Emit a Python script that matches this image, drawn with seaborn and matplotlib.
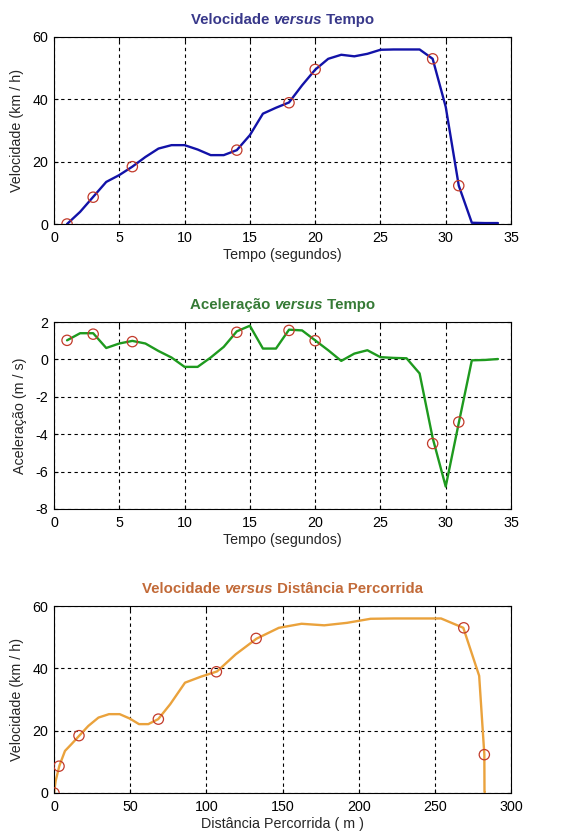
import numpy as np
import pandas as pd
import matplotlib
matplotlib.use("Agg")
import matplotlib.pyplot as plt
import seaborn as sns

# ---------------- data ----------------
tempo = [1, 2, 3, 4, 5, 6, 7, 8, 9, 10, 11, 12, 13, 14, 15, 16, 17,
         18, 19, 20, 21, 22, 23, 24, 25, 26, 27, 28, 29, 30, 31, 32, 33, 34]
velocidade = [0.0, 3.9, 8.7, 13.5, 15.7, 18.4, 21.5, 24.2, 25.3, 25.3, 23.9,
              22.1, 22.1, 23.7, 28.5, 35.4, 37.3, 39.0, 44.5, 49.5, 53.0, 54.3,
              53.8, 54.6, 55.9, 56.0, 56.0, 56.0, 53.0, 37.6, 12.3, 0.4, 0.3, 0.3]
aceleracao = [1.02, 1.40, 1.40, 0.61, 0.85, 0.99, 0.85, 0.45, 0.10, -0.40, -0.40,
              0.10, 0.67, 1.50, 1.80, 0.58, 0.58, 1.59, 1.55, 1.02, 0.49, -0.08,
              0.31, 0.49, 0.12, 0.08, 0.06, -0.75, -4.20, -6.80, -3.40, -0.05,
              -0.03, 0.02]
distancia = [0.0, 1.1, 3.5, 7.2, 11.5, 16.6, 22.5, 29.2, 36.1, 43.1, 49.7, 55.8,
             61.9, 68.4, 76.3, 86.0, 96.3, 107.0, 119.3, 132.9, 147.6, 162.5,
             177.4, 192.4, 207.8, 223.2, 238.7, 254.1, 268.7, 279.1, 282.5,
             282.6, 282.7, 282.8]

marc_t = [1, 3, 6, 14, 18, 20, 29, 31]
marc_v = [0.0, 8.6, 18.4, 23.7, 38.9, 49.6, 53.0, 12.3]
marc_a = [1.02, 1.35, 0.95, 1.45, 1.55, 1.0, -4.5, -3.35]
marc_d = [0.0, 3.3, 16.4, 68.5, 106.6, 132.7, 269.0, 282.5]

xt_tempo = [0, 5, 10, 15, 20, 25, 30, 35]
yt_vel = [0, 20, 40, 60]
yt_acel = [-8, -6, -4, -2, 0, 2]
xt_dist = [0, 50, 100, 150, 200, 250, 300]

# ---------------- style ----------------
sns.set_theme(style="white")
plt.rcParams["font.family"] = ["Liberation Sans", "DejaVu Sans"]
plt.rcParams["axes.unicode_minus"] = False
FS = 10.3
TFS = 10.8

W, H = 561, 834
fig = plt.figure(figsize=(W / 100, H / 100), dpi=100)
fig.patch.set_facecolor("white")

left = 54 / W
width = 457 / W
hgt = 187 / H
ax1 = fig.add_axes([left, 1 - 224 / H, width, hgt])
ax2 = fig.add_axes([left, 1 - 509 / H, width, hgt])
ax3 = fig.add_axes([left, 1 - 793 / H, width, hgt])

df = pd.DataFrame({"t": tempo, "v": velocidade, "a": aceleracao, "d": distancia})
dm = pd.DataFrame({"t": marc_t, "v": marc_v, "a": marc_a, "d": marc_d})

blue = "#1212a8"
green = "#1e9a1e"
orange = "#eaa23c"
mk = "#c23a2a"

sns.lineplot(data=df, x="t", y="v", ax=ax1, color=blue, lw=1.7, sort=False)
sns.lineplot(data=df, x="t", y="a", ax=ax2, color=green, lw=1.7, sort=False)
sns.lineplot(data=df, x="d", y="v", ax=ax3, color=orange, lw=1.7, sort=False)

for ax, xc, yc in [(ax1, "t", "v"), (ax2, "t", "a"), (ax3, "d", "v")]:
    sns.scatterplot(data=dm, x=xc, y=yc, ax=ax, s=55, marker="o",
                    facecolor="none", edgecolor=mk, linewidth=0.9, zorder=5)


def style(ax, xlim, xt, ylim, yt, xlabel, ylabel):
    ax.set_xlim(*xlim)
    ax.set_ylim(*ylim)
    ax.set_xticks(xt)
    ax.set_yticks(yt)
    ax.set_xlabel(xlabel, fontsize=FS, labelpad=2)
    ax.set_ylabel(ylabel, fontsize=FS, labelpad=6)
    ax.grid(True, color="black", linestyle=(0, (3, 3)), linewidth=0.8)
    ax.set_axisbelow(True)
    for s in ax.spines.values():
        s.set_color("black")
        s.set_linewidth(0.8)
    ax.tick_params(direction="in", length=3, width=0.8, labelsize=FS,
                   colors="black", top=True, right=True,
                   bottom=True, left=True, labeltop=False, labelright=False)
    ax.tick_params(axis="x", pad=5)
    ax.tick_params(axis="y", pad=4)


style(ax1, (0, 35), xt_tempo, (0, 60), yt_vel, "Tempo (segundos)", "Velocidade (km / h)")
style(ax2, (0, 35), xt_tempo, (-8, 2), yt_acel, "Tempo (segundos)", "Aceleração (m / s)")
style(ax3, (0, 300), xt_dist, (0, 60), yt_vel, "Distância Percorrida ( m )", "Velocidade (km / h)")

# ---------------- titles with italic "versus" ----------------
fig.canvas.draw()
renderer = fig.canvas.get_renderer()


def title(ax, parts, color, ypix):
    y = 1 - ypix / H
    texts = []
    for txt, style_ in parts:
        t = fig.text(0, y, txt, color=color, fontsize=TFS, fontweight="bold",
                     fontstyle=style_, ha="left", va="center")
        texts.append(t)
    widths = [t.get_window_extent(renderer).width / W for t in texts]
    total = sum(widths)
    bb = ax.get_position()
    x = (bb.x0 + bb.x1) / 2 - total / 2
    for t, w in zip(texts, widths):
        t.set_x(x)
        x += w


title(ax1, [("Velocidade ", "normal"), ("versus", "italic"), (" Tempo", "normal")],
      "#38388a", 20)
title(ax2, [("Aceleração ", "normal"), ("versus", "italic"), (" Tempo", "normal")],
      "#357a35", 305)
title(ax3, [("Velocidade ", "normal"), ("versus", "italic"),
            (" Distância Percorrida", "normal")], "#c26a38", 589)

fig.savefig("out.png", dpi=100)
